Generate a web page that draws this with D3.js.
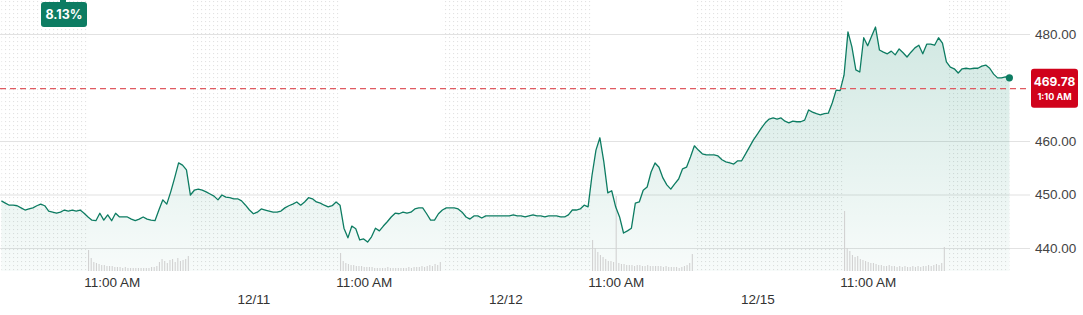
<!DOCTYPE html>
<html>
<head>
<meta charset="utf-8">
<script src="https://cdn.jsdelivr.net/npm/d3@7"></script>
<style>
  html, body { margin: 0; padding: 0; background: #fff; }
  svg { display: block; font-family: Inter, "Liberation Sans", sans-serif; }
</style>
</head>
<body>
<svg id="chart" width="1083" height="315"></svg>
<script>
// days shown, each one 4:00 AM - 8:00 PM, prices every 15 min from 4:00 AM
const dates = ["12/10", "12/11", "12/12", "12/15"];

const day1 = [448.8, 448.4, 448.0, 448.0, 447.9, 447.5, 447.1, 447.3, 447.5, 447.9, 448.2, 447.9, 446.9, 446.7, 446.5, 446.7,
  447.1, 446.9, 447.1, 446.9, 447.1, 446.5, 445.8, 445.2, 445.1, 446.5, 445.2, 446.2, 445.1, 446.5, 445.8, 445.8,
  445.8, 445.4, 445.1, 445.4, 445.8, 445.4, 445.2, 445.1, 447.1, 449.0, 448.2, 450.5, 453.1, 455.9, 455.5, 454.6,
  449.9, 450.8, 451.0, 450.8, 450.5, 450.1, 449.7, 449.0, 449.9, 449.5, 449.4, 449.2, 449.2, 448.8, 448.0, 447.1];

const day2 = [446.4, 446.7, 447.3, 447.1, 446.9, 446.7, 446.7, 446.9, 447.5, 447.9, 448.2, 448.6, 448.0, 448.6, 449.4, 449.2,
  448.6, 448.4, 448.0, 447.7, 447.9, 448.6, 448.0, 443.7, 441.9, 444.1, 443.6, 441.5, 441.7, 441.1, 442.1, 443.7,
  443.2, 444.1, 444.9, 445.8, 446.5, 446.4, 446.7, 446.5, 446.7, 447.3, 447.5, 447.5, 446.4, 445.2, 445.2, 446.4,
  447.1, 447.5, 447.5, 447.5, 447.3, 446.7, 445.8, 445.4, 446.0, 446.0, 445.6, 446.0, 446.0, 446.0, 446.0, 446.0];

const day3 = [446.0, 446.0, 446.2, 446.0, 446.0, 445.8, 446.0, 446.2, 446.0, 446.0, 445.8, 446.0, 446.0, 446.0, 445.8, 445.8,
  446.2, 447.1, 447.1, 447.3, 448.0, 447.7, 453.6, 458.3, 460.6, 456.1, 450.3, 450.7, 447.7, 445.8, 442.8, 443.2,
  443.7, 448.4, 448.6, 450.8, 451.4, 454.2, 455.9, 455.1, 453.1, 451.8, 451.0, 452.0, 452.9, 454.8, 455.1, 457.0,
  459.1, 458.3, 457.6, 457.4, 457.4, 457.4, 457.2, 456.5, 456.1, 455.9, 455.7, 456.3, 456.3, 457.6, 458.9, 460.2];

const day4 = [461.3, 462.4, 463.4, 464.1, 464.3, 464.1, 464.3, 463.7, 463.4, 463.7, 463.6, 463.6, 463.9, 465.8, 465.4, 465.1,
  464.9, 465.1, 465.2, 467.1, 469.5, 469.4, 472.3, 480.4, 477.6, 473.3, 472.9, 479.3, 477.8, 479.6, 481.3, 477.0,
  476.6, 476.3, 476.8, 476.1, 477.2, 476.5, 475.7, 476.6, 477.4, 477.9, 476.3, 478.1, 478.1, 477.9, 479.3, 478.3,
  474.8, 473.8, 473.5, 472.7, 473.5, 473.6, 473.5, 473.6, 473.6, 474.0, 474.2, 473.6, 472.5, 471.8, 471.8, 472.0];

const closePrice = 471.8;          // 8:00 PM on the last day
const refPrice = 469.78;
const refTime = "1:10 AM";
const changeText = "8.13%";

// volume (millions) per 10 min during regular hours 9:30 - 4:00
const vol1 = [2.1, 1.3, 0.9, 0.8, 0.7, 0.6, 0.6, 0.5, 0.5, 0.5, 0.4, 0.4, 0.4, 0.3, 0.4, 0.3, 0.3, 0.3, 0.3, 0.3,
  0.3, 0.3, 0.3, 0.3, 0.4, 0.4, 0.5, 0.9, 1.2, 1.0, 0.8, 1.1, 1.2, 0.9, 1.3, 1.0, 1.1, 1.2, 1.5];
const vol2 = [1.8, 1.0, 0.8, 0.7, 0.6, 0.6, 0.5, 0.5, 0.5, 0.4, 0.4, 0.4, 0.4, 0.3, 0.3, 0.3, 0.3, 0.3, 0.4, 0.3,
  0.3, 0.3, 0.3, 0.3, 0.3, 0.3, 0.4, 0.3, 0.4, 0.4, 0.4, 0.5, 0.4, 0.5, 0.6, 0.5, 0.7, 0.6, 0.9];
const vol3 = [3.1, 2.3, 1.9, 1.6, 1.4, 1.2, 1.0, 1.0, 0.9, 7.5, 0.8, 0.7, 0.7, 0.6, 0.6, 0.6, 0.5, 0.6, 0.6, 0.5,
  0.5, 0.6, 0.5, 0.5, 0.5, 0.5, 0.5, 0.4, 0.5, 0.4, 0.4, 0.4, 0.4, 0.3, 0.4, 0.5, 0.6, 0.8, 1.7];
const vol4 = [6.0, 2.3, 2.0, 1.6, 1.4, 1.5, 1.2, 1.1, 1.0, 0.9, 0.8, 0.8, 0.7, 0.6, 0.6, 0.5, 0.5, 0.6, 0.5, 0.5,
  0.4, 0.5, 0.4, 0.5, 0.4, 0.4, 0.5, 0.4, 0.5, 0.4, 0.5, 0.5, 0.6, 0.5, 0.6, 0.7, 0.6, 0.8, 2.4];

const yTicks = [440, 450, 460, 480];

const DAY = 960;      // minutes 4:00 AM -> 8:00 PM
const OPEN = 330;     // 9:30 AM
const CLOSE = 720;    // 4:00 PM
const GREEN = "#0d7c62";

const svg = d3.select("#chart");
const plotRight = 1009.4, plotBottom = 271;

const x = d3.scaleLinear().domain([0, dates.length * DAY]).range([1.4, plotRight]);
const y = d3.scaleLinear().domain([440, 480]).range([248, 34]);
const yVol = d3.scaleLinear().domain([0, 10]).range([plotBottom, plotBottom - 100]);

const days = [day1, day2, day3, day4];
const series = days.flatMap((arr, d) => arr.map((p, i) => ({t: d * DAY + i * 15, p})));
series.push({t: dates.length * DAY, p: closePrice});

const defs = svg.append("defs");
const pat = defs.append("pattern").attr("id", "dots")
  .attr("width", 4).attr("height", 4).attr("patternUnits", "userSpaceOnUse");
pat.append("rect").attr("x", 1).attr("y", 1).attr("width", 1.1).attr("height", 1.1).attr("fill", "#e2e2e2");

const grad = defs.append("linearGradient").attr("id", "fill")
  .attr("gradientUnits", "userSpaceOnUse").attr("x1", 0).attr("x2", 0).attr("y1", 30).attr("y2", plotBottom);
grad.append("stop").attr("offset", 0).attr("stop-color", "#008060").attr("stop-opacity", 0.18);
grad.append("stop").attr("offset", 1).attr("stop-color", "#008060").attr("stop-opacity", 0.03);

// extended hours shading
const ext = [];
dates.forEach((d, i) => {
  ext.push([i * DAY, i * DAY + OPEN]);
  ext.push([i * DAY + CLOSE, (i + 1) * DAY]);
});
svg.append("g").selectAll("rect").data(ext).enter().append("rect")
  .attr("x", d => x(d[0]))
  .attr("width", d => x(d[1]) - x(d[0]))
  .attr("y", 0)
  .attr("height", plotBottom)
  .attr("fill", "url(#dots)");

// y grid + labels
const yAxis = svg.append("g")
  .attr("transform", "translate(1030,0)")
  .call(d3.axisRight(y).tickValues(yTicks).tickSize(-1030).tickPadding(5).tickFormat(d3.format(".2f")));
yAxis.select(".domain").remove();
yAxis.selectAll("line").attr("stroke", "#e2e2e2").attr("stroke-width", 1.2);
yAxis.selectAll("text").attr("fill", "#444").attr("font-size", 13.5);

// area + line
svg.append("path").datum(series)
  .attr("fill", "url(#fill)")
  .attr("d", d3.area().x(d => x(d.t)).y0(plotBottom).y1(d => y(d.p)));

// volume
const volBars = [vol1, vol2, vol3, vol4].flatMap((arr, d) => arr.map((v, i) => ({t: d * DAY + OPEN + i * 10, v})));
svg.append("g").selectAll("rect").data(volBars).enter().append("rect")
  .attr("x", d => x(d.t))
  .attr("width", 1.1)
  .attr("y", d => yVol(d.v))
  .attr("height", d => plotBottom - yVol(d.v))
  .attr("fill", "#d2d2d2");

svg.append("path").datum(series)
  .attr("fill", "none")
  .attr("stroke", GREEN)
  .attr("stroke-width", 1.3)
  .attr("stroke-linejoin", "round")
  .attr("d", d3.line().x(d => x(d.t)).y(d => y(d.p)));

// reference line
svg.append("line")
  .attr("x1", 0).attr("x2", 1030)
  .attr("y1", y(refPrice)).attr("y2", y(refPrice))
  .attr("stroke", "#e05a60").attr("stroke-width", 1.2).attr("stroke-dasharray", "6,4");

const last = series[series.length - 1];
svg.append("circle").attr("cx", x(last.t)).attr("cy", y(last.p)).attr("r", 3.6).attr("fill", GREEN);

// price tag
const tag = svg.append("g").attr("transform", `translate(1031,${y(refPrice) - 20})`);
tag.append("rect").attr("width", 47).attr("height", 39).attr("rx", 3).attr("fill", "#d0021b");
tag.append("text").attr("x", 23.5).attr("y", 17).attr("text-anchor", "middle")
  .attr("fill", "#fff").attr("font-size", 12).attr("font-weight", 700).text(refPrice.toFixed(2));
tag.append("text").attr("x", 23.5).attr("y", 31).attr("text-anchor", "middle")
  .attr("fill", "#fff").attr("font-size", 9).attr("font-weight", 700).text(refTime);

// change badge
const badge = svg.append("g").attr("transform", "translate(41,2)");
badge.append("rect").attr("x", 19).attr("y", -3).attr("width", 6).attr("height", 4).attr("fill", GREEN);
badge.append("rect").attr("width", 46).attr("height", 25).attr("rx", 3).attr("fill", GREEN);
badge.append("text").attr("x", 23).attr("y", 17).attr("text-anchor", "middle")
  .attr("fill", "#fff").attr("font-size", 12.5).attr("font-weight", 700).text(changeText);

// x axis: 11:00 AM each day, date at each day change
const timeAxis = svg.append("g").attr("transform", `translate(0,${plotBottom})`)
  .call(d3.axisBottom(x).tickValues(dates.map((d, i) => i * DAY + 420)).tickSize(0).tickPadding(6).tickFormat(() => "11:00 AM"));
timeAxis.select(".domain").remove();
timeAxis.selectAll("text").attr("fill", "#333").attr("font-size", 13.5);

const dateAxis = svg.append("g").attr("transform", `translate(0,${plotBottom + 17})`)
  .call(d3.axisBottom(x).tickValues(dates.slice(1).map((d, i) => (i + 1) * DAY)).tickSize(0).tickPadding(6)
    .tickFormat((d) => dates[Math.round(d / DAY)]));
dateAxis.select(".domain").remove();
dateAxis.selectAll("text").attr("fill", "#333").attr("font-size", 13.5);
</script>
</body>
</html>
